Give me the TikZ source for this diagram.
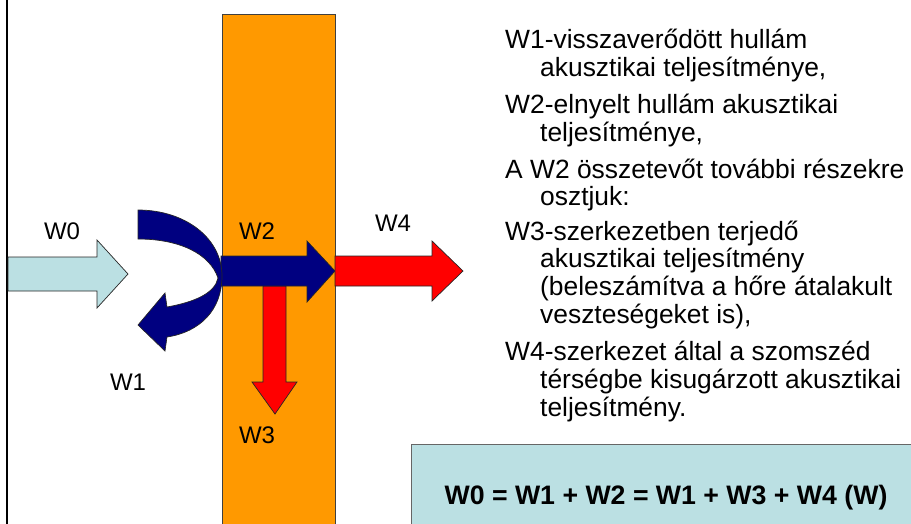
\documentclass[tikz,border=0pt]{standalone}
\usepackage{fontspec}
\setmainfont{Liberation Sans}
\definecolor{wallorange}{HTML}{FF9900}
\definecolor{navyarrow}{HTML}{000080}
\definecolor{lightteal}{HTML}{BBE0E3}
\definecolor{redarrow}{HTML}{FF0000}
\begin{document}
\begin{tikzpicture}[x=1pt,y=-1pt,
  shape outline/.style={draw=black!85,line width=0.7pt,line join=miter},
  lbl/.style={anchor=base,inner sep=0pt,font=\fontsize{24}{28}\selectfont},
  body/.style={anchor=base west,inner sep=0pt,font=\fontsize{26.4}{30}\selectfont},
  eq/.style={anchor=base,inner sep=0pt,font=\fontsize{26.7}{30}\selectfont\bfseries}]
\useasboundingbox (0,0) rectangle (911,523);
\clip (0,0) rectangle (911,523);
% left border line
\draw[line width=2pt] (7,-2) -- (7,530);
% wall
\fill[wallorange] (222,14) rectangle (335,530);
\draw[black!75,line width=0.8pt] (222,530) -- (222,14) -- (335,14) -- (335,530);
% W3 arrow (down)
\filldraw[fill=redarrow,shape outline] (263,286) -- (263,382) -- (252,382) -- (275,414) -- (297,382) -- (286,382) -- (286,286) -- cycle;
% W2 arrow
\filldraw[fill=navyarrow,shape outline] (221,256) -- (307,256) -- (307,241) -- (335,271) -- (307,302) -- (307,286) -- (221,286) -- cycle;
% W4 arrow
\filldraw[fill=redarrow,shape outline] (335,256) -- (432,256) -- (432,241) -- (463,271) -- (432,301) -- (432,286) -- (335,286) -- cycle;
% W1 curved arrow
\filldraw[fill=navyarrow,shape outline] (138,210) .. controls (185,210) and (222,238) .. (222,276)
  .. controls (222,310) and (200,332) .. (167,337)
  -- (165,351) -- (138,325) -- (165,293) -- (167,307)
  .. controls (195,302) and (215,293) .. (218,278)
  .. controls (210,254) and (180,239) .. (138,239) -- cycle;
% W0 arrow
\filldraw[fill=lightteal,shape outline] (8,257) -- (97,257) -- (97,240) -- (128,274) -- (97,308) -- (97,291) -- (8,291) -- cycle;
% labels
\node[lbl] (lw0) at (62,239) {W0};
\node[lbl] (lw2) at (257,239) {W2};
\node[lbl] (lw4) at (393,231) {W4};
\node[lbl] (lw1) at (128,390) {W1};
\node[lbl] (lw3) at (257,443) {W3};
% description text
\node[body] (t1) at (505,48) {W1-visszaverődött hullám};
\node[body] (t2) at (540,76) {akusztikai teljesítménye,};
\node[body] (t3) at (505,113) {W2-elnyelt hullám akusztikai};
\node[body] (t4) at (540,141) {teljesítménye,};
\node[body] (t5) at (505,178) {A W2 összetevőt további részekre};
\node[body] (t6) at (540,205) {osztjuk:};
\node[body] (t7) at (505,240) {W3-szerkezetben terjedő};
\node[body] (t8) at (540,267) {akusztikai teljesítmény};
\node[body] (t9) at (540,295) {(beleszámítva a hőre átalakult};
\node[body] (t10) at (540,323) {veszteségeket is),};
\node[body] (t11) at (505,360) {W4-szerkezet által a szomszéd};
\node[body] (t12) at (540,388) {térségbe kisugárzott akusztikai};
\node[body] (t13) at (540,416) {teljesítmény.};
% equation box
\filldraw[fill=lightteal,draw=black!60,line width=0.8pt] (411,444) rectangle (930,540);
\node[eq] (eqn) at (666,504) {W0 = W1 + W2 = W1 + W3 + W4 (W)};
\end{tikzpicture}
\end{document}
